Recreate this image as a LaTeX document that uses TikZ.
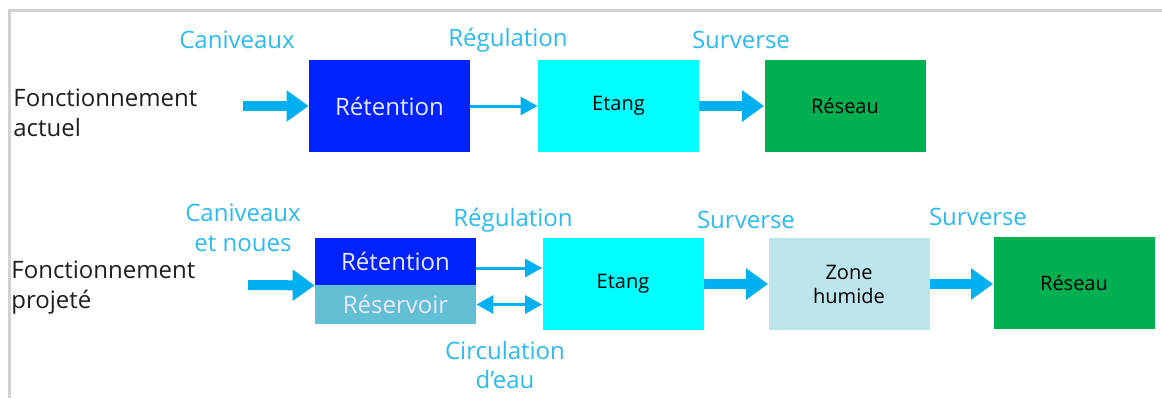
\documentclass[tikz,border=0pt]{standalone}
\usepackage{fontspec}
\setmainfont{Open Sans}
\usetikzlibrary{arrows.meta}
\definecolor{flow}{RGB}{0,176,240}
\definecolor{flowlabel}{RGB}{45,186,240}
\definecolor{retention}{RGB}{0,34,255}
\definecolor{reservoir}{RGB}{99,192,212}
\definecolor{etang}{RGB}{0,255,255}
\definecolor{zonehum}{RGB}{189,229,238}
\definecolor{reseau}{RGB}{0,175,80}
\definecolor{boxtext}{RGB}{232,232,255}

\tikzset{
  box/.style={minimum width=80.5pt, minimum height=46pt, inner sep=0pt,
    align=center, font=\fontsize{10}{12}\selectfont},
  bigflow/.style={line width=5pt, flow, -{Triangle[length=11pt,width=15pt]}},
  smallflow/.style={line width=1.5pt, flow, -{Triangle[length=8.5pt,width=9pt]}},
  flowtext/.style={text=flowlabel, align=center, font=\fontsize{12}{14.75}\selectfont},
  rowtext/.style={anchor=west, align=left, inner sep=0pt, text=black!88, font=\fontsize{12}{15}\selectfont},
}

\begin{document}
\begin{tikzpicture}[x=0.5pt,y=-0.5pt]
\useasboundingbox (0,0) rectangle (1162,398);
% frame
\draw[gray!35, line width=1.5pt] (8,10) -- (1162,10);
\draw[gray!35, line width=1.5pt] (9.5,10) -- (9.5,398);

% current layout
\node[rowtext] (actuel) at (13,113) {Fonctionnement\\actuel};
\node[box, fill=retention, text=boxtext, font=\fontsize{12}{14}\selectfont] (ret1) at (389.5,106) {Rétention};
\node[box, fill=etang] (etang1) at (618.5,106) {Etang};
\node[box, fill=reseau] (reseau1) at (845,106) {Réseau};
\coordinate (in1) at (243,106);
\draw[bigflow] (in1) -- (ret1.west);
\draw[smallflow] (ret1.east) -- (etang1.west);
\draw[bigflow] (etang1.east) -- (reseau1.west);
\node[flowtext] (can1) at (237,40) {Caniveaux};
\node[flowtext] (reg1) at (508,40) {Régulation};
\node[flowtext] (surv1) at (741,40) {Surverse};

% planned layout
\node[rowtext] (projete) at (11,288) {Fonctionnement\\projeté};
\node[box, minimum height=23.5pt, fill=retention, text=boxtext, font=\fontsize{12}{14}\selectfont] (ret2) at (395.5,261.5) {Rétention};
\node[box, minimum height=19.5pt, fill=reservoir, text=boxtext, font=\fontsize{12}{14}\selectfont] (res2) at (395.5,304.5) {Réservoir};
\node[box, fill=etang] (etang2) at (623,284) {Etang};
\node[box, fill=zonehum] (zone2) at (849,284) {Zone\\humide};
\node[box, fill=reseau] (reseau2) at (1074,282.5) {Réseau};
\coordinate (in2) at (248,285);
\draw[bigflow] (in2) -- (ret2.south west);
\draw[smallflow] ([yshift=-3.25pt]ret2.east) -- ([yshift=-3.25pt]ret2.east -| etang2.west);
\draw[smallflow, {Triangle[length=8.5pt,width=9pt]}-{Triangle[length=8.5pt,width=9pt]}] (res2.east) -- (res2.east -| etang2.west);
\draw[bigflow] (etang2.east) -- (zone2.west);
\draw[bigflow] (zone2.east) -- (zone2.east -| reseau2.west);
\node[flowtext] (can2) at (243,228) {Caniveaux\\et noues};
\node[flowtext] (reg2) at (513,220) {Régulation};
\node[flowtext] (surv2) at (746,220) {Surverse};
\node[flowtext] (surv3) at (978,217) {Surverse};
\node[flowtext] (circ2) at (505,365) {Circulation\\d’eau};
\end{tikzpicture}
\end{document}
